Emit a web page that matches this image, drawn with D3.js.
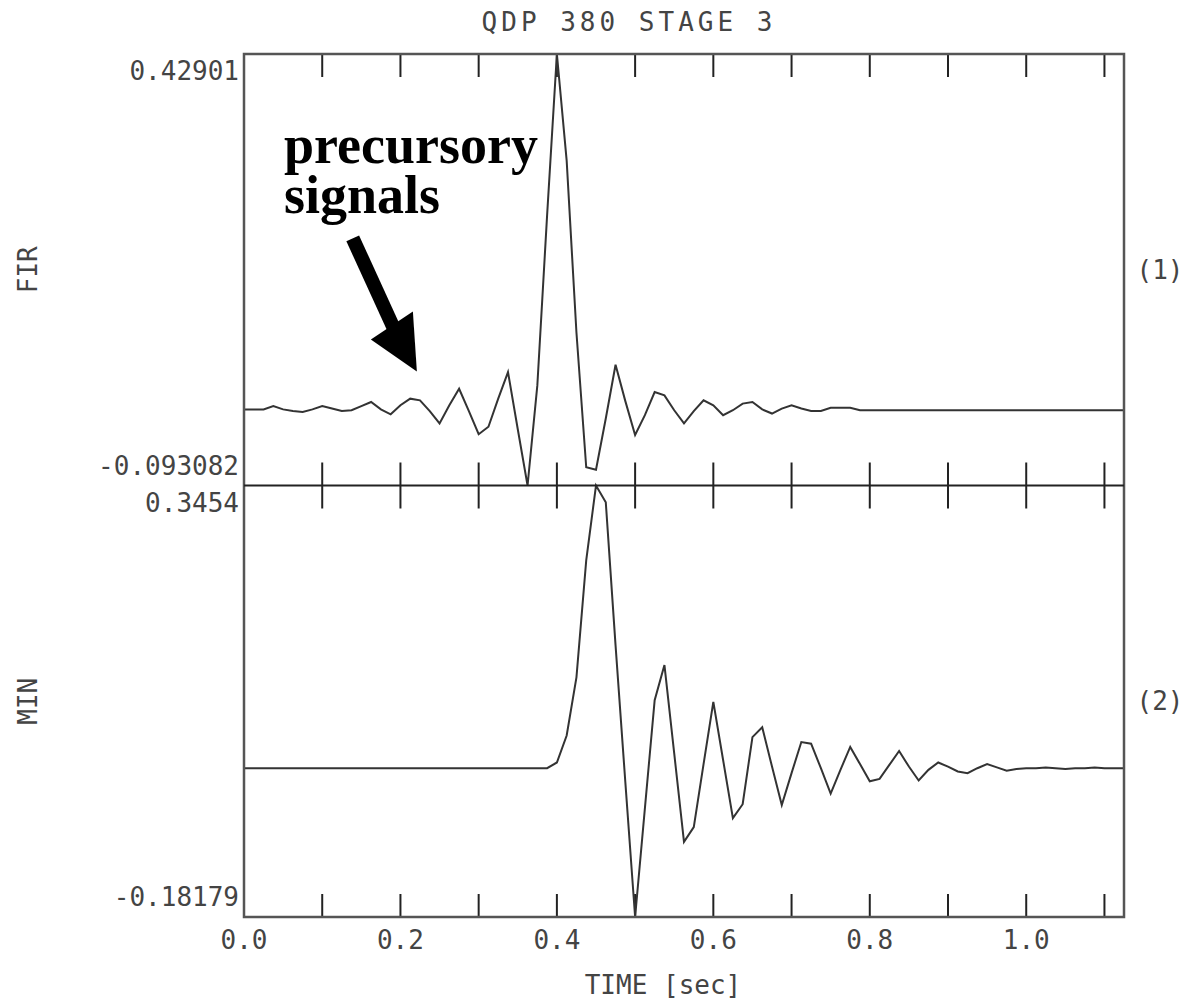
<!DOCTYPE html>
<html>
<head>
<meta charset="utf-8">
<script src="https://cdn.jsdelivr.net/npm/d3@7"></script>
<style>
  body { margin: 0; background: #fff; }
  text { font-family: "DejaVu Sans Mono", monospace; fill: #444; }
</style>
</head>
<body>
<div id="chart"></div>
<script>
// sampling step of both traces (seconds)
const dt = 0.0125;

// trace (1) FIR
const firValues = [
  -0.001, -0.001, -0.001, 0.003, -0.001, -0.003, -0.004, -0.001, 0.003, 0.000,
  -0.003, -0.002, 0.003, 0.008, -0.001, -0.007, 0.004, 0.012, 0.010, -0.003,
  -0.018, 0.004, 0.024, -0.003, -0.031, -0.022, 0.012, 0.044, -0.025, -0.093082,
  0.028, 0.234, 0.42901, 0.300, 0.092, -0.071, -0.074, -0.012, 0.053, 0.009,
  -0.032, -0.008, 0.020, 0.016, -0.002, -0.018, -0.003, 0.010, 0.004, -0.008,
  -0.002, 0.006, 0.008, -0.001, -0.006, 0.000, 0.004, 0.000, -0.003, -0.003,
  0.001, 0.001, 0.001, -0.002, -0.002, -0.002, -0.002, -0.002, -0.002, -0.002,
  -0.002, -0.002, -0.002, -0.002, -0.002, -0.002, -0.002, -0.002, -0.002, -0.002,
  -0.002, -0.002, -0.002, -0.002, -0.002, -0.002, -0.002, -0.002, -0.002, -0.002,
  -0.002
];

// trace (2) MIN
const minValues = [
  0, 0, 0, 0, 0, 0, 0, 0, 0, 0,
  0, 0, 0, 0, 0, 0, 0, 0, 0, 0,
  0, 0, 0, 0, 0, 0, 0, 0, 0, 0,
  0, 0, 0.007, 0.040, 0.111, 0.254, 0.3454, 0.325, 0.150, -0.017,
  -0.18179, -0.049, 0.083, 0.126, 0.018, -0.090, -0.072, 0.005, 0.081, 0.010,
  -0.061, -0.044, 0.038, 0.050, 0.002, -0.045, -0.006, 0.032, 0.030, 0.000,
  -0.031, -0.002, 0.026, 0.005, -0.016, -0.013, 0.004, 0.021, 0.002, -0.015,
  -0.002, 0.007, 0.002, -0.004, -0.006, 0.000, 0.005, 0.001, -0.003, -0.001,
  0.000, 0.000, 0.001, 0.000, -0.001, 0.000, 0.000, 0.001, 0.000, 0.000,
  0.000
];

const panels = [
  { name: "FIR", tag: "(1)", values: firValues, max: 0.42901, min: -0.093082 },
  { name: "MIN", tag: "(2)", values: minValues, max: 0.3454, min: -0.18179 }
];

const xTicks = [0.1, 0.2, 0.3, 0.4, 0.5, 0.6, 0.7, 0.8, 0.9, 1.0, 1.1];
const xLabels = [0.0, 0.2, 0.4, 0.6, 0.8, 1.0];
const title = "QDP 380 STAGE 3";
const xTitle = "TIME [sec]";

// layout
const W = 1194, H = 999;
const plotL = 244, plotR = 1124, plotT = 54, plotB = 917;
const panelH = (plotB - plotT) / panels.length;
const tickLen = 23;
const fs = "26px";

const svg = d3.select("#chart").append("svg")
  .attr("width", W)
  .attr("height", H);

svg.append("rect").attr("width", W).attr("height", H).attr("fill", "#fff");

const x = d3.scaleLinear().domain([0, 1.125]).range([plotL, plotR]);

panels.forEach(function (p, k) {
  const y0 = plotT + k * panelH;
  const y = d3.scaleLinear().domain([p.min, p.max]).range([y0 + panelH, y0]);

  // ticks on top and bottom edges of each panel
  xTicks.forEach(function (t) {
    svg.append("line")
      .attr("x1", x(t)).attr("x2", x(t))
      .attr("y1", y0).attr("y2", y0 + tickLen)
      .attr("stroke", "#222").attr("stroke-width", 2);
    svg.append("line")
      .attr("x1", x(t)).attr("x2", x(t))
      .attr("y1", y0 + panelH - tickLen).attr("y2", y0 + panelH)
      .attr("stroke", "#222").attr("stroke-width", 2);
  });

  // trace
  const line = d3.line()
    .x(function (d, i) { return x(i * dt); })
    .y(function (d) { return y(d); });

  svg.append("path")
    .datum(p.values)
    .attr("d", line)
    .attr("fill", "none")
    .attr("stroke", "#333")
    .attr("stroke-width", 2);

  // range labels
  svg.append("text")
    .attr("x", plotL - 5).attr("y", y(p.max) + 26)
    .attr("text-anchor", "end")
    .style("font-size", fs)
    .text(String(p.max));
  svg.append("text")
    .attr("x", plotL - 5).attr("y", y(p.min) - 11)
    .attr("text-anchor", "end")
    .style("font-size", fs)
    .text(String(p.min));

  // panel name
  svg.append("text")
    .attr("transform", "translate(" + 37 + "," + (y0 + panelH / 2) + ") rotate(-90)")
    .attr("text-anchor", "middle")
    .style("font-size", fs)
    .text(p.name);

  svg.append("text")
    .attr("x", 1160).attr("y", y0 + panelH / 2 + 9)
    .attr("text-anchor", "middle")
    .style("font-size", fs)
    .text(p.tag);
});

// frame
svg.append("rect")
  .attr("x", plotL).attr("y", plotT)
  .attr("width", plotR - plotL).attr("height", plotB - plotT)
  .attr("fill", "none").attr("stroke", "#555").attr("stroke-width", 2.5);
svg.append("line")
  .attr("x1", plotL).attr("x2", plotR)
  .attr("y1", plotT + panelH).attr("y2", plotT + panelH)
  .attr("stroke", "#222").attr("stroke-width", 2);

// bottom axis labels
svg.selectAll(".xl")
  .data(xLabels)
  .enter().append("text")
  .attr("x", function (d) { return x(d); })
  .attr("y", plotB + 32)
  .attr("text-anchor", "middle")
  .style("font-size", fs)
  .text(function (d) { return d.toFixed(1); });

svg.append("text")
  .attr("x", 663).attr("y", 994)
  .attr("text-anchor", "middle")
  .style("font-size", fs)
  .text(xTitle);

svg.append("text")
  .attr("x", 629).attr("y", 31)
  .attr("text-anchor", "middle")
  .style("font-size", fs)
  .style("letter-spacing", "4px")
  .text(title);

// annotation: precursory signals (two separate lines)
const noteLines = ["precursory", "signals"];
noteLines.forEach(function (s, i) {
  svg.append("text")
    .attr("x", 284).attr("y", 163 + i * 50)
    .style("font-family", "'Liberation Serif', 'Times New Roman', serif")
    .style("font-weight", "bold")
    .style("font-size", "54px")
    .style("fill", "#000")
    .text(s);
});

const yTop = d3.scaleLinear().domain([panels[0].min, panels[0].max]).range([plotT + panelH, plotT]);
const tipX = x(0.221), tipY = yTop(0.045);
svg.append("line")
  .attr("x1", x(0.139)).attr("y1", yTop(0.206))
  .attr("x2", tipX - 18).attr("y2", tipY - 32)
  .attr("stroke", "#000").attr("stroke-width", 14);
svg.append("path")
  .attr("d", "M" + tipX + "," + tipY +
    "L" + (tipX - 46) + "," + (tipY - 32) +
    "L" + (tipX - 4) + "," + (tipY - 60) + "Z")
  .attr("fill", "#000");
</script>
</body>
</html>
